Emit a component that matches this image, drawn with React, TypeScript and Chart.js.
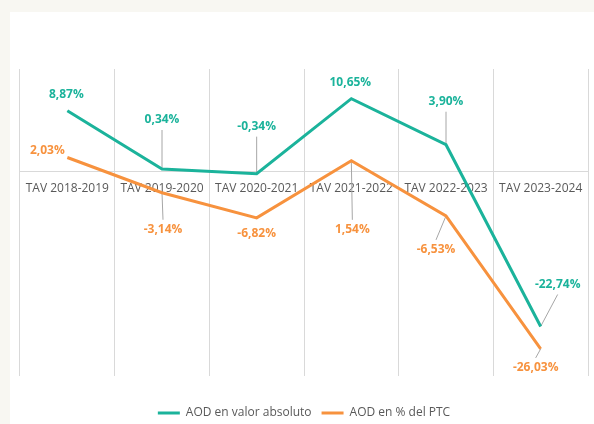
import React, { useEffect, useRef } from 'react';
import { Chart, registerables } from 'chart.js';

Chart.register(...registerables);

// ---- Data ----
const categories = [
  'TAV 2018-2019',
  'TAV 2019-2020',
  'TAV 2020-2021',
  'TAV 2021-2022',
  'TAV 2022-2023',
  'TAV 2023-2024',
];
const aodValorAbsoluto = [8.87, 0.34, -0.34, 10.65, 3.9, -22.74];
const aodPctPtc = [2.03, -3.14, -6.82, 1.54, -6.53, -26.03];
const seriesNames = ['AOD en valor absoluto', 'AOD en % del PTC'];

// ---- Styles ----
const TEAL = '#1bb39b';
const ORANGE = '#f7923e';
const TEXT = '#595959';
const GRID = '#d9d9d9';
const FONT = "'Open Sans', sans-serif";

// label placement relative to each point (style, not data)
const labelLayout = [
  [
    { dx: -1, dy: -16, leader: false },
    { dx: 0, dy: -49, leader: true },
    { dx: 0, dy: -47, leader: true },
    { dx: -1, dy: -16, leader: false },
    { dx: 0, dy: -43, leader: true },
    { dx: 17, dy: -42, leader: true },
  ],
  [
    { dx: -20, dy: -7, leader: false },
    { dx: 1, dy: 37, leader: true },
    { dx: 0, dy: 16, leader: false },
    { dx: 1, dy: 69, leader: true },
    { dx: -10, dy: 34, leader: true },
    { dx: -5, dy: 19, leader: true },
  ],
];

const fmt = (v: number) => v.toFixed(2).replace('.', ',') + '%';

const labelPlugin = {
  id: 'pointLabels',
  beforeDatasetsDraw(chart: any) {
    const ctx = chart.ctx;
    ctx.save();
    ctx.strokeStyle = '#a6a6a6';
    ctx.lineWidth = 1;
    chart.data.datasets.forEach((_ds: any, di: number) => {
      const meta = chart.getDatasetMeta(di);
      meta.data.forEach((pt: any, i: number) => {
        const L = labelLayout[di][i];
        if (!L.leader) return;
        const lx = pt.x + L.dx;
        const ly = pt.y + L.dy;
        const ey = ly + (L.dy < 0 ? 10 : -10);
        ctx.beginPath();
        ctx.moveTo(pt.x, pt.y);
        ctx.lineTo(lx, ey);
        ctx.stroke();
      });
    });
    ctx.restore();
  },
  afterDatasetsDraw(chart: any) {
    const ctx = chart.ctx;
    ctx.save();
    ctx.font = `bold 12px ${FONT}`;
    ctx.textAlign = 'center';
    ctx.textBaseline = 'middle';
    chart.data.datasets.forEach((ds: any, di: number) => {
      const meta = chart.getDatasetMeta(di);
      ctx.fillStyle = ds.borderColor;
      meta.data.forEach((pt: any, i: number) => {
        const L = labelLayout[di][i];
        ctx.fillText(fmt(ds.data[i]), pt.x + L.dx, pt.y + L.dy);
      });
    });
    ctx.restore();
  },
};

export default function App() {
  const ref = useRef<HTMLCanvasElement | null>(null);

  useEffect(() => {
    if (!ref.current) return;
    Chart.defaults.font.family = FONT;
    const chart = new Chart(ref.current, {
      type: 'line',
      data: {
        labels: categories,
        datasets: [
          {
            label: seriesNames[0],
            data: aodValorAbsoluto,
            borderColor: TEAL,
            backgroundColor: TEAL,
            borderWidth: 3,
            pointRadius: 0,
            tension: 0,
          },
          {
            label: seriesNames[1],
            data: aodPctPtc,
            borderColor: ORANGE,
            backgroundColor: ORANGE,
            borderWidth: 3,
            pointRadius: 0,
            tension: 0,
          },
        ],
      },
      options: {
        responsive: false,
        animation: false,
        layout: { padding: { left: 10, right: 6, top: 57, bottom: 0 } },
        scales: {
          x: {
            type: 'category',
            offset: true,
            position: { y: 0 } as any,
            grid: { offset: true, color: GRID, lineWidth: 1, drawTicks: false },
            border: { color: GRID, width: 1 },
            ticks: {
              color: TEXT,
              font: { family: FONT, size: 12 },
              padding: 10,
              maxRotation: 0,
              autoSkip: false,
            },
          },
          y: {
            type: 'linear',
            display: false,
            min: -30,
            max: 15,
          },
        },
        plugins: {
          tooltip: { enabled: false },
          legend: {
            position: 'bottom',
            title: { display: true, text: ' ', font: { size: 10 }, padding: { top: 9, bottom: 0 } },
            labels: {
              boxWidth: 22,
              boxHeight: 3,
              padding: 10,
              color: TEXT,
              font: { family: FONT, size: 12 },
              generateLabels: (c: any) =>
                c.data.datasets.map((ds: any, i: number) => ({
                  text: ds.label,
                  fillStyle: ds.borderColor,
                  strokeStyle: ds.borderColor,
                  lineWidth: 0,
                  hidden: false,
                  datasetIndex: i,
                  fontColor: TEXT,
                })),
            },
          },
        },
      },
      plugins: [labelPlugin],
    });
    return () => chart.destroy();
  }, []);

  return (
    <div style={{ position: 'fixed', inset: 0, background: '#f8f7f2', overflow: 'hidden' }}>
      <div
        style={{
          position: 'absolute',
          left: 10,
          top: 12,
          width: 584,
          height: 417,
          background: '#ffffff',
        }}
      >
        <canvas ref={ref} width={584} height={417} style={{ display: 'block' }} />
      </div>
    </div>
  );
}
